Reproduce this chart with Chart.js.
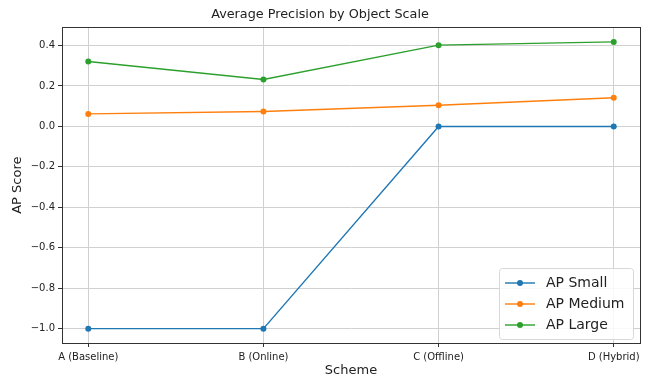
<!DOCTYPE html>
<html>
<head>
<meta charset="utf-8">
<script src="https://cdn.jsdelivr.net/npm/chart.js@4/dist/chart.umd.min.js"></script>
<style>
  html, body { margin: 0; padding: 0; background: #fff; }
  #wrap { width: 647px; height: 378px; }
</style>
</head>
<body>
<div id="wrap"><canvas id="grafico" width="647" height="378"></canvas></div>
<script>
const schemes = ['A (Baseline)', 'B (Online)', 'C (Offline)', 'D (Hybrid)'];
const apSmall = [-1.0, -1.0, 0.0, 0.0];
const apMedium = [0.062, 0.074, 0.105, 0.142];
const apLarge = [0.321, 0.232, 0.402, 0.418];
const yTicks = [-1.0, -0.8, -0.6, -0.4, -0.2, 0.0, 0.2, 0.4];

const FONT = 'DejaVu Sans';

function pontos(vals) {
  return vals.map((v, i) => ({ x: i, y: v }));
}

function serie(label, vals, cor) {
  return {
    label: label,
    data: pontos(vals),
    borderColor: cor,
    backgroundColor: cor,
    borderWidth: 1.4,
    pointRadius: 3,
    pointHoverRadius: 3,
    pointBorderWidth: 0,
    tension: 0
  };
}

// moldura + legenda dentro da area do grafico (estilo matplotlib)
const molduraLegenda = {
  id: 'molduraLegenda',
  afterDraw(chart) {
    const c = chart.ctx;
    const a = chart.chartArea;
    c.save();
    c.strokeStyle = '#333';
    c.lineWidth = 1;
    c.strokeRect(Math.round(a.left) + 0.5, Math.round(a.top) + 0.5,
      Math.round(a.right - a.left), Math.round(a.bottom - a.top));

    const ds = chart.data.datasets;
    const w = 134, rowH = 21, h = ds.length * rowH + 8;
    const x0 = a.right - 7 - w, y0 = a.bottom - 4 - h;
    c.fillStyle = 'rgba(255,255,255,0.85)';
    c.strokeStyle = '#d8d8d8';
    c.beginPath();
    c.roundRect(x0 + 0.5, y0 + 0.5, w, h, 3);
    c.fill();
    c.stroke();
    c.font = '14px "' + FONT + '"';
    c.textBaseline = 'middle';
    ds.forEach((d, i) => {
      const cy = y0 + 4 + rowH * i + rowH / 2 + 0.5;
      c.strokeStyle = d.borderColor;
      c.lineWidth = 1.4;
      c.beginPath();
      c.moveTo(x0 + 6, cy);
      c.lineTo(x0 + 36, cy);
      c.stroke();
      c.fillStyle = d.borderColor;
      c.beginPath();
      c.arc(x0 + 21, cy, 3, 0, Math.PI * 2);
      c.fill();
      c.fillStyle = '#222';
      c.fillText(d.label, x0 + 47, cy);
    });
    c.restore();
  }
};

const ctx = document.getElementById('grafico').getContext('2d');
new Chart(ctx, {
  type: 'line',
  data: {
    datasets: [
      serie('AP Small', apSmall, '#1f77b4'),
      serie('AP Medium', apMedium, '#ff7f0e'),
      serie('AP Large', apLarge, '#2ca02c')
    ]
  },
  options: {
    responsive: false,
    animation: false,
    layout: { padding: { left: 0, right: 7, top: 0, bottom: 0 } },
    plugins: {
      legend: { display: false },
      tooltip: { enabled: false },
      title: {
        display: true,
        text: 'Average Precision by Object Scale',
        color: '#222',
        font: { family: FONT, size: 12.8, weight: 'normal' },
        padding: { top: 7, bottom: 5 }
      }
    },
    scales: {
      x: {
        type: 'linear',
        min: -0.15,
        max: 3.15,
        afterFit(s) { s.height = 35; },
        afterBuildTicks(s) { s.ticks = schemes.map((_, i) => ({ value: i })); },
        ticks: {
          color: '#222',
          font: { family: FONT, size: 10 },
          padding: 4,
          maxRotation: 0,
          autoSkip: false,
          callback: v => schemes[v]
        },
        grid: { color: '#d0d0d0', lineWidth: 1, tickColor: '#333', tickLength: 4 },
        border: { color: '#333', width: 1 },
        title: {
          display: true,
          text: 'Scheme',
          color: '#222',
          font: { family: FONT, size: 13 },
          padding: { top: 0, bottom: 0 }
        }
      },
      y: {
        min: -1.071,
        max: 0.49,
        afterFit(s) { s.width = 62; },
        afterBuildTicks(s) { s.ticks = yTicks.map(v => ({ value: v })); },
        ticks: {
          color: '#222',
          font: { family: FONT, size: 10 },
          padding: 3,
          callback: v => v.toFixed(1).replace('-', '\u2212')
        },
        grid: { color: '#d0d0d0', lineWidth: 1, tickColor: '#333', tickLength: 4 },
        border: { color: '#333', width: 1 },
        title: {
          display: true,
          text: 'AP Score',
          color: '#222',
          font: { family: FONT, size: 13 },
          padding: { top: 10, bottom: 0 }
        }
      }
    }
  },
  plugins: [molduraLegenda]
});
</script>
</body>
</html>
